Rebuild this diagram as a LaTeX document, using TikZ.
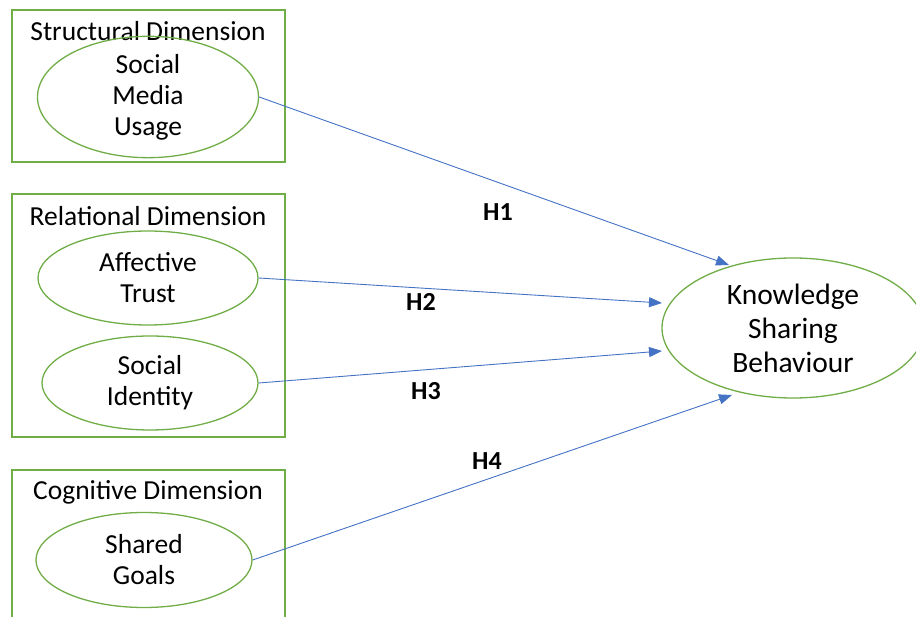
\documentclass[tikz,border=0pt]{standalone}
\usepackage{fontspec}
\setmainfont{Carlito}
\usetikzlibrary{arrows.meta,shapes.geometric}
\definecolor{grn}{HTML}{70AD47}
\definecolor{blu}{HTML}{4472C4}
\tikzset{
  dimbox/.style={draw=grn, line width=1.3pt},
  construct/.style={ellipse, draw=grn, line width=1.3pt, inner sep=0pt, align=center,
    font=\fontsize{27.5}{31}\selectfont},
  dimtitle/.style={font=\fontsize{27.5}{31}\selectfont, inner sep=0pt},
  hyp/.style={font=\fontsize{26}{30}\selectfont\bfseries, inner sep=0pt},
  link/.style={draw=blu, line width=0.9pt, -{Triangle[length=13pt,width=10pt]}}
}
\begin{document}
\begin{tikzpicture}[x=1pt,y=-1pt]
\useasboundingbox (0,0) rectangle (916,617);
\clip (0,0) rectangle (916,617);
% dimension boxes
\draw[dimbox] (12,10) rectangle (285,162);
\draw[dimbox] (12,194) rectangle (285,437);
\draw[dimbox] (12,470) rectangle (285,630);
\node[dimtitle] (t1) at (148,31) {Structural Dimension};
\node[dimtitle] (t2) at (148,216) {Relational Dimension};
\node[dimtitle] (t3) at (148,492) {Cognitive Dimension};
% constructs
\node[construct, minimum width=221pt, minimum height=96pt] (smu) at (148,97) {Social\\Media\\Usage};
\node[construct, minimum width=220pt, minimum height=94pt] (at) at (148,278) {Affective\\Trust};
\node[construct, minimum width=216pt, minimum height=94pt] (si) at (150,383) {Social\\Identity};
\node[construct, minimum width=216pt, minimum height=95pt] (sg) at (144,560) {Shared\\Goals};
\node[construct, minimum width=262pt, minimum height=140pt, font=\fontsize{29.5}{34}\selectfont] (ksb) at (793,328) {Knowledge\\Sharing\\Behaviour};
% arrow targets
\coordinate (k1) at (729,265);
\coordinate (k2) at (662,303);
\coordinate (k3) at (662,351);
\coordinate (k4) at (732,395);
\draw[link] (smu.east) -- (k1);
\draw[link] (at.east) -- (k2);
\draw[link] (si.east) -- (k3);
\draw[link] (sg.east) -- (k4);
% hypothesis labels
\node[hyp] (h1) at (498,212) {H1};
\node[hyp] (h2) at (421,302) {H2};
\node[hyp] (h3) at (426,391) {H3};
\node[hyp] (h4) at (487,461) {H4};
\end{tikzpicture}
\end{document}
